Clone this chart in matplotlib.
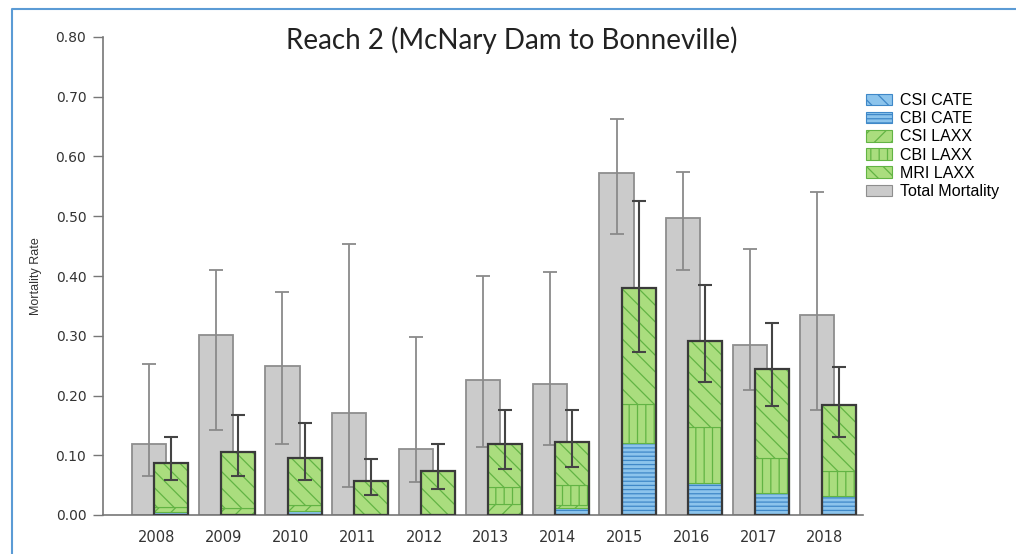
import matplotlib
matplotlib.use("Agg")
import matplotlib.pyplot as plt
from matplotlib.patches import Patch
from matplotlib.lines import Line2D
import numpy as np

years = ["2008", "2009", "2010", "2011", "2012", "2013", "2014", "2015", "2016", "2017", "2018"]
total_mort = [0.118, 0.301, 0.249, 0.171, 0.111, 0.226, 0.219, 0.573, 0.497, 0.284, 0.335]
total_lo = [0.066, 0.143, 0.119, 0.047, 0.055, 0.114, 0.117, 0.470, 0.410, 0.210, 0.176]
total_hi = [0.252, 0.410, 0.373, 0.453, 0.298, 0.400, 0.407, 0.662, 0.574, 0.445, 0.541]

csi_cate = [0.0, 0.0, 0.0, 0.0, 0.0, 0.0, 0.0, 0.0, 0.0, 0.0, 0.0]
cbi_cate = [0.005, 0.0, 0.007, 0.0, 0.0, 0.0, 0.012, 0.120, 0.054, 0.036, 0.031]
csi_laxx = [0.009, 0.012, 0.010, 0.0, 0.0, 0.019, 0.005, 0.0, 0.0, 0.0, 0.0]
cbi_laxx = [0.0, 0.0, 0.0, 0.0, 0.0, 0.028, 0.033, 0.066, 0.094, 0.059, 0.043]
mri_laxx = [0.073, 0.093, 0.078, 0.057, 0.074, 0.071, 0.072, 0.194, 0.144, 0.149, 0.110]
comp_lo = [0.059, 0.066, 0.059, 0.034, 0.044, 0.077, 0.081, 0.273, 0.223, 0.182, 0.131]
comp_hi = [0.130, 0.167, 0.154, 0.094, 0.119, 0.176, 0.175, 0.526, 0.385, 0.321, 0.247]

plt.rcParams['hatch.linewidth'] = 0.9

fig = plt.figure(figsize=(10.16, 5.54), dpi=100)
ax = fig.add_axes([103/1016, 39/554, 760/1016, 478/554])

x = np.arange(len(years))
w = 0.51
gx = x - 0.12
cx = x + 0.21

gray_fill = "#cbcbcb"
gray_edge = "#8e8e8e"
green_fill = "#aadd7e"
green_hatch = "#62b444"
blue_fill = "#8cc4ec"
blue_hatch = "#3f88c8"

ax.bar(gx, total_mort, width=w, color=gray_fill, edgecolor=gray_edge, linewidth=1.3, zorder=1)
tm = np.array(total_mort)
ax.errorbar(gx, tm, yerr=[tm - np.array(total_lo), np.array(total_hi) - tm], fmt="none",
            ecolor="#8a8a8a", elinewidth=1.3, capsize=5, capthick=1.3, zorder=2)

segments = [
    (csi_cate, blue_fill, blue_hatch, "\\\\"),
    (cbi_cate, blue_fill, blue_hatch, "----"),
    (csi_laxx, green_fill, green_hatch, "//"),
    (cbi_laxx, green_fill, green_hatch, "||"),
    (mri_laxx, green_fill, green_hatch, "\\\\"),
]
bottom = np.zeros(len(years))
for vals, fc, hc, hatch in segments:
    v = np.array(vals)
    ax.bar(cx, v, width=w, bottom=bottom, color=fc, edgecolor=hc, hatch=hatch,
           linewidth=0.8, zorder=3)
    bottom = bottom + v
ax.bar(cx, bottom, width=w, fill=False, edgecolor="#3a3a3a", linewidth=1.6, zorder=4)
ax.errorbar(cx, bottom, yerr=[bottom - np.array(comp_lo), np.array(comp_hi) - bottom], fmt="none",
            ecolor="#444444", elinewidth=1.5, capsize=5, capthick=1.5, zorder=5)

ax.set_xlim(-0.807, 10.57)
ax.set_ylim(0, 0.8)
ax.set_yticks(np.arange(0, 0.81, 0.1))
ax.set_yticklabels([f"{v:.2f}" for v in np.arange(0, 0.81, 0.1)], fontsize=10,
                   family="DejaVu Sans", color="#333333")
ax.set_xticks(x)
ax.set_xticklabels(years, fontsize=10.5, family="DejaVu Sans", color="#333333")
ax.tick_params(axis="x", length=0, pad=11)
ax.tick_params(axis="y", length=7, width=1, color="#777777", pad=5)
for s in ["top", "right"]:
    ax.spines[s].set_visible(False)
for s in ["left", "bottom"]:
    ax.spines[s].set_color("#777777")
    ax.spines[s].set_linewidth(1.2)
ax.set_ylabel("Mortality Rate", fontsize=9, family="Liberation Sans", color="#333333", labelpad=10)

fig.text(512/1016, 1 - 40/554, "Reach 2 (McNary Dam to Bonneville)", ha="center", va="center",
         fontsize=20, family="Lato", color="#222222")

handles = [
    Patch(facecolor=blue_fill, edgecolor=blue_hatch, hatch="\\\\", linewidth=0.8),
    Patch(facecolor=blue_fill, edgecolor=blue_hatch, hatch="----", linewidth=0.8),
    Patch(facecolor=green_fill, edgecolor=green_hatch, hatch="//", linewidth=0.8),
    Patch(facecolor=green_fill, edgecolor=green_hatch, hatch="||", linewidth=0.8),
    Patch(facecolor=green_fill, edgecolor=green_hatch, hatch="\\\\", linewidth=0.8),
    Patch(facecolor=gray_fill, edgecolor=gray_edge, linewidth=0.8),
]
labels = ["CSI CATE", "CBI CATE", "CSI LAXX", "CBI LAXX", "MRI LAXX", "Total Mortality"]
fig.legend(handles, labels, loc="upper left", bbox_to_anchor=(866/1016, 1 - 93/554), frameon=False,
           prop={"family": "Liberation Sans", "size": 11.5}, handlelength=1.6, handleheight=0.75,
           labelspacing=0.2, handletextpad=0.55, borderaxespad=0, borderpad=0)

frame = Line2D([12/1016, 12/1016, 1.0], [0.0, 1 - 9/554, 1 - 9/554], transform=fig.transFigure,
               color="#5b9bd5", linewidth=1.5)
fig.add_artist(frame)

fig.savefig("out.png", dpi=100)
